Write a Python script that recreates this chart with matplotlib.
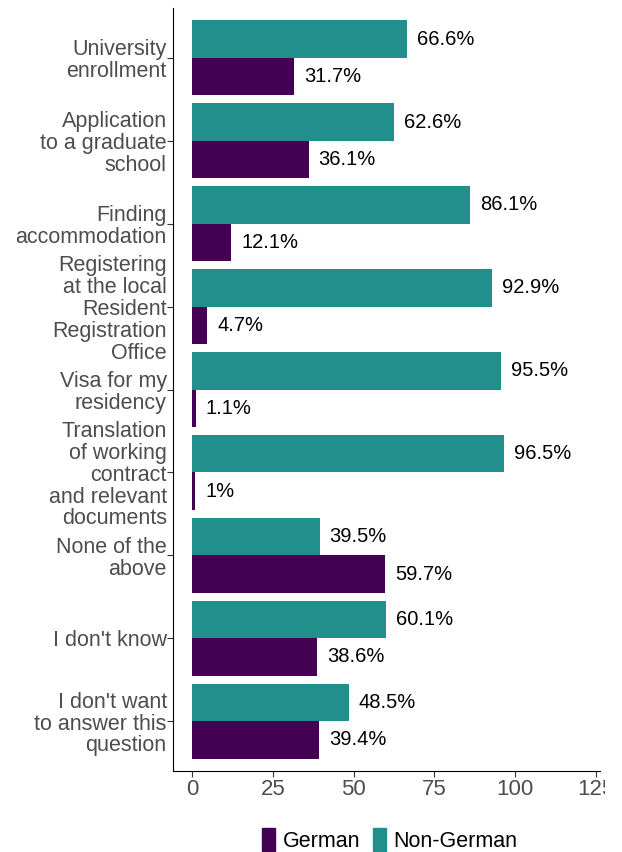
import matplotlib
matplotlib.use("Agg")
import matplotlib.pyplot as plt
from matplotlib.patches import Patch
from matplotlib.transforms import Bbox
import numpy as np

plt.rcParams['font.family'] = ['Liberation Sans', 'DejaVu Sans']

categories = [
    "University\nenrollment",
    "Application\nto a graduate\nschool",
    "Finding\naccommodation",
    "Registering\nat the local\nResident\nRegistration\nOffice",
    "Visa for my\nresidency",
    "Translation\nof working\ncontract\nand relevant\ndocuments",
    "None of the\nabove",
    "I don't know",
    "I don't want\nto answer this\nquestion",
]
german = [31.7, 36.1, 12.1, 4.7, 1.1, 1.0, 59.7, 38.6, 39.4]
non_german = [66.6, 62.6, 86.1, 92.9, 95.5, 96.5, 39.5, 60.1, 48.5]
german_labels = ["31.7%", "36.1%", "12.1%", "4.7%", "1.1%", "1%", "59.7%", "38.6%", "39.4%"]
non_german_labels = ["66.6%", "62.6%", "86.1%", "92.9%", "95.5%", "96.5%", "39.5%", "60.1%", "48.5%"]
xticks = [0, 25, 50, 75, 100, 125]

c_ger = "#440154"
c_non = "#21908C"

fig = plt.figure(figsize=(6.22, 8.52), dpi=100)
W, H = 622, 852
ax = fig.add_axes([173 / W, 1 - 771 / H, (600 - 173) / W, (771 - 8) / H])

pos = np.arange(1, len(categories) + 1)
bw = 0.45
ax.barh(pos - bw / 2, non_german, height=bw, color=c_non, label="Non-German")
ax.barh(pos + bw / 2, german, height=bw, color=c_ger, label="German")

off = 3.1
for p, v, t in zip(pos, non_german, non_german_labels):
    ax.text(v + off, p - bw / 2, t, va="center", ha="left", fontsize=14.5, color="black")
for p, v, t in zip(pos, german, german_labels):
    ax.text(v + off, p + bw / 2, t, va="center", ha="left", fontsize=14.5, color="black")

ax.set_ylim(9.6, 0.4)
ax.set_xlim(-5.9, 126.3)
ax.set_yticks(pos)
ax.set_yticklabels(categories, fontsize=15.5, color="#4D4D4D", linespacing=1.05)
ax.set_xticks(xticks)
ax.set_xticklabels([str(x) for x in xticks], fontsize=16, color="#4D4D4D")
ax.tick_params(axis="x", length=4, color="#333333", width=0.8, pad=1.5)
ax.tick_params(axis="y", length=4, color="#333333", width=0.8, pad=0.5)
for s in ["top", "right"]:
    ax.spines[s].set_visible(False)
for s in ["left", "bottom"]:
    ax.spines[s].set_color("black")
    ax.spines[s].set_linewidth(0.8)

# last x tick label is cut off at the panel edge in the reference
clip = Bbox.from_extents(0, 0, 605, H)
lab = ax.get_xticklabels()[-1]
lab.set_clip_box(clip)
lab.set_clip_on(True)

handles = [Patch(color=c_ger, label="German"), Patch(color=c_non, label="Non-German")]
fig.legend(handles=handles, loc="center", bbox_to_anchor=(390 / W, 1 - 840 / H), ncol=2,
           frameon=False, fontsize=15.5, handlelength=0.6, handleheight=1.3,
           handletextpad=0.35, columnspacing=0.6)

fig.savefig("out.png", dpi=100)
